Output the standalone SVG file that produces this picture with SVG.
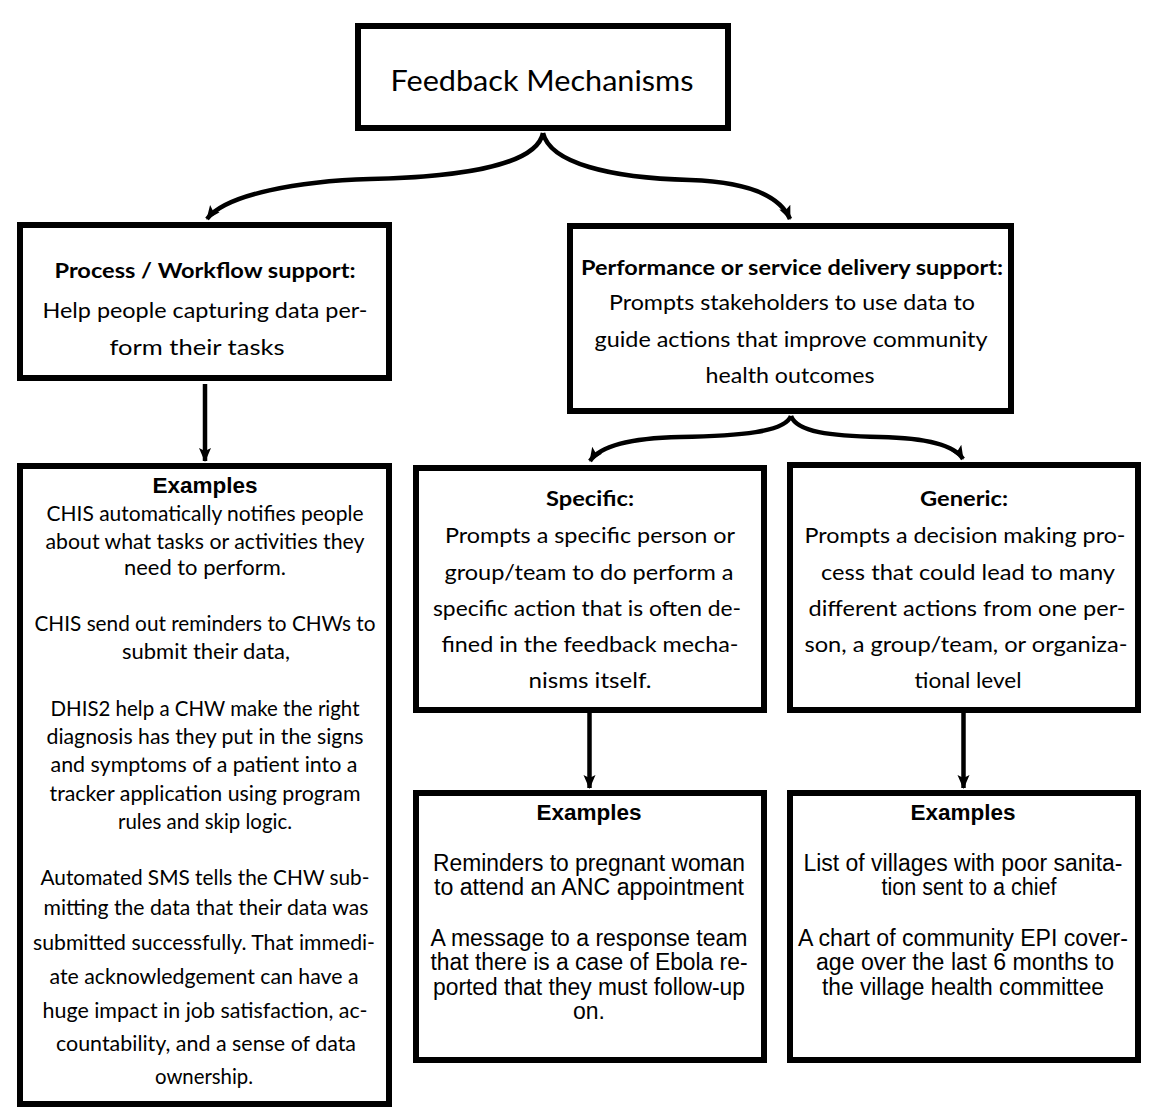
<svg xmlns="http://www.w3.org/2000/svg" width="1163" height="1118" viewBox="0 0 1163 1118">
<style>
.box{fill:#fff;stroke:#000;stroke-width:6}
.c{font-family:Lato,"Open Sans",sans-serif;font-size:21px;fill:#000;text-anchor:middle}
.t{font-family:Lato,"Open Sans",sans-serif;font-size:29px;fill:#000;text-anchor:middle}
.cb{font-family:Lato,"Open Sans",sans-serif;font-size:20px;font-weight:bold;fill:#000;text-anchor:middle}
.cs{font-family:Lato,"Open Sans",sans-serif;font-size:20.5px;fill:#000;text-anchor:middle}
.a{font-family:"Liberation Sans",Arial,sans-serif;font-size:23px;fill:#000;text-anchor:middle}
.ab{font-family:"Liberation Sans",Arial,sans-serif;font-size:22.5px;font-weight:bold;fill:#000;text-anchor:middle}
.conn{fill:none;stroke:#000;stroke-width:4.5}
</style>
<defs>
<marker id="ah" markerUnits="userSpaceOnUse" markerWidth="14" markerHeight="14" viewBox="0 0 14 14" refX="13" refY="7" orient="auto">
<path d="M0,1 L14,7 L0,13 L3,7 z" fill="#000"/>
</marker>
</defs>
<rect width="1163" height="1118" fill="#fff"/>

<g id="connectors">
<path class="conn" d="M543,133 C537,163 470,177 370,179 C300,181 226,194 207,219" marker-end="url(#ah)"/>
<path class="conn" d="M543,133 C550,163 610,178 690,180 C750,182 780,196 790,219" marker-end="url(#ah)"/>
<path class="conn" d="M205,384 L205,461" marker-end="url(#ah)"/>
<path class="conn" d="M791,416 C785,432 740,436 680,437 C630,438 600,446 590,461" marker-end="url(#ah)"/>
<path class="conn" d="M791,416 C797,432 830,436 880,437 C930,438 955,446 963,459" marker-end="url(#ah)"/>
<path class="conn" d="M589.5,713 L589.5,788" marker-end="url(#ah)"/>
<path class="conn" d="M963.5,713 L963.5,788" marker-end="url(#ah)"/>
</g>

<g id="feedback-mechanisms">
<rect class="box" x="358" y="26" width="370" height="102"/>
<text class="t" x="542" y="91" textLength="303" lengthAdjust="spacingAndGlyphs">Feedback Mechanisms</text>
</g>

<g id="process-workflow">
<rect class="box" x="20" y="225" width="369" height="153"/>
<text class="cb" x="205" y="278" textLength="301" lengthAdjust="spacingAndGlyphs">Process / Workflow support:</text>
<text class="c" x="205" y="318" textLength="325" lengthAdjust="spacingAndGlyphs">Help people capturing data per-</text>
<text class="c" x="197" y="355" textLength="175" lengthAdjust="spacingAndGlyphs">form their tasks</text>
</g>

<g id="performance-support">
<rect class="box" x="570" y="226" width="441" height="185"/>
<text class="cb" x="792" y="275" textLength="422" lengthAdjust="spacingAndGlyphs">Performance or service delivery support:</text>
<text class="c" x="792" y="310" textLength="366" lengthAdjust="spacingAndGlyphs">Prompts stakeholders to use data to</text>
<text class="c" x="791" y="347" textLength="393" lengthAdjust="spacingAndGlyphs">guide actions that improve community</text>
<text class="c" x="790" y="383" textLength="169" lengthAdjust="spacingAndGlyphs">health outcomes</text>
</g>

<g id="process-examples">
<rect class="box" x="20" y="466" width="369" height="638"/>
<text class="ab" x="205" y="493">Examples</text>
<text class="cs" x="205" y="521" textLength="317" lengthAdjust="spacingAndGlyphs">CHIS automatically notifies people</text>
<text class="cs" x="205" y="549" textLength="319" lengthAdjust="spacingAndGlyphs">about what tasks or activities they</text>
<text class="cs" x="205" y="575" textLength="162" lengthAdjust="spacingAndGlyphs">need to perform.</text>
<text class="cs" x="205" y="631" textLength="341" lengthAdjust="spacingAndGlyphs">CHIS send out reminders to CHWs to</text>
<text class="cs" x="206" y="659" textLength="168" lengthAdjust="spacingAndGlyphs">submit their data,</text>
<text class="cs" x="205" y="716" textLength="309" lengthAdjust="spacingAndGlyphs">DHIS2 help a CHW make the right</text>
<text class="cs" x="205" y="744" textLength="317" lengthAdjust="spacingAndGlyphs">diagnosis has they put in the signs</text>
<text class="cs" x="204" y="772" textLength="307" lengthAdjust="spacingAndGlyphs">and symptoms of a patient into a</text>
<text class="cs" x="205" y="801" textLength="311" lengthAdjust="spacingAndGlyphs">tracker application using program</text>
<text class="cs" x="205" y="829" textLength="174" lengthAdjust="spacingAndGlyphs">rules and skip logic.</text>
<text class="cs" x="205" y="885" textLength="329" lengthAdjust="spacingAndGlyphs">Automated SMS tells the CHW sub-</text>
<text class="cs" x="206" y="915" textLength="325" lengthAdjust="spacingAndGlyphs">mitting the data that their data was</text>
<text class="cs" x="204" y="950" textLength="342" lengthAdjust="spacingAndGlyphs">submitted successfully. That immedi-</text>
<text class="cs" x="204" y="984" textLength="309" lengthAdjust="spacingAndGlyphs">ate acknowledgement can have a</text>
<text class="cs" x="205" y="1018" textLength="325" lengthAdjust="spacingAndGlyphs">huge impact in job satisfaction, ac-</text>
<text class="cs" x="206" y="1051" textLength="300" lengthAdjust="spacingAndGlyphs">countability, and a sense of data</text>
<text class="cs" x="204" y="1084" textLength="98" lengthAdjust="spacingAndGlyphs">ownership.</text>
</g>

<g id="specific">
<rect class="box" x="416" y="468" width="348" height="242"/>
<text class="cb" x="590" y="506" textLength="88" lengthAdjust="spacingAndGlyphs">Specific:</text>
<text class="c" x="590" y="543" textLength="290" lengthAdjust="spacingAndGlyphs">Prompts a specific person or</text>
<text class="c" x="589" y="580" textLength="289" lengthAdjust="spacingAndGlyphs">group/team to do perform a</text>
<text class="c" x="587" y="616" textLength="308" lengthAdjust="spacingAndGlyphs">specific action that is often de-</text>
<text class="c" x="590" y="652" textLength="297" lengthAdjust="spacingAndGlyphs">fined in the feedback mecha-</text>
<text class="c" x="590" y="688" textLength="123" lengthAdjust="spacingAndGlyphs">nisms itself.</text>
</g>

<g id="generic">
<rect class="box" x="790" y="465" width="348" height="245"/>
<text class="cb" x="964" y="506" textLength="88" lengthAdjust="spacingAndGlyphs">Generic:</text>
<text class="c" x="965" y="543" textLength="321" lengthAdjust="spacingAndGlyphs">Prompts a decision making pro-</text>
<text class="c" x="968" y="580" textLength="294" lengthAdjust="spacingAndGlyphs">cess that could lead to many</text>
<text class="c" x="967" y="616" textLength="317" lengthAdjust="spacingAndGlyphs">different actions from one per-</text>
<text class="c" x="966" y="652" textLength="323" lengthAdjust="spacingAndGlyphs">son, a group/team, or organiza-</text>
<text class="c" x="968" y="688" textLength="107" lengthAdjust="spacingAndGlyphs">tional level</text>
</g>

<g id="specific-examples">
<rect class="box" x="416" y="793" width="348" height="267"/>
<text class="ab" x="589" y="820">Examples</text>
<text class="a" x="589" y="871" textLength="312" lengthAdjust="spacingAndGlyphs">Reminders to pregnant woman</text>
<text class="a" x="589" y="895" textLength="310" lengthAdjust="spacingAndGlyphs">to attend an ANC appointment</text>
<text class="a" x="589" y="946" textLength="317" lengthAdjust="spacingAndGlyphs">A message to a response team</text>
<text class="a" x="589" y="970" textLength="317" lengthAdjust="spacingAndGlyphs">that there is a case of Ebola re-</text>
<text class="a" x="589" y="995" textLength="312" lengthAdjust="spacingAndGlyphs">ported that they must follow-up</text>
<text class="a" x="589" y="1019">on.</text>
</g>

<g id="generic-examples">
<rect class="box" x="790" y="793" width="348" height="267"/>
<text class="ab" x="963" y="820">Examples</text>
<text class="a" x="963" y="871" textLength="319" lengthAdjust="spacingAndGlyphs">List of villages with poor sanita-</text>
<text class="a" x="969" y="895" textLength="175" lengthAdjust="spacingAndGlyphs">tion sent to a chief</text>
<text class="a" x="963" y="946" textLength="330" lengthAdjust="spacingAndGlyphs">A chart of community EPI cover-</text>
<text class="a" x="965" y="970" textLength="298" lengthAdjust="spacingAndGlyphs">age over the last 6 months to</text>
<text class="a" x="963" y="995" textLength="282" lengthAdjust="spacingAndGlyphs">the village health committee</text>
</g>
</svg>
